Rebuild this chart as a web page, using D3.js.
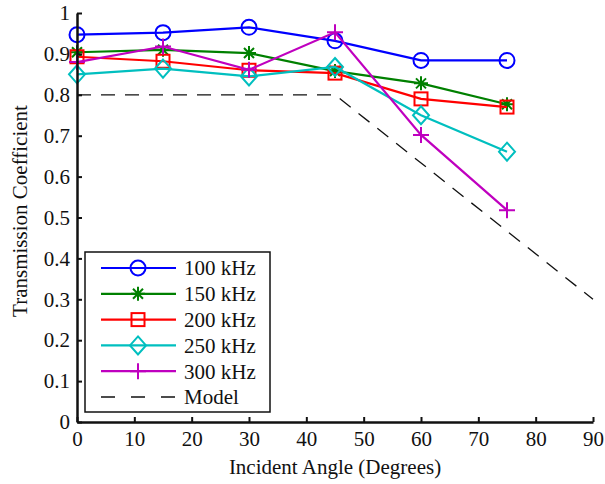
<!DOCTYPE html>
<html>
<head>
<meta charset="utf-8">
<script src="https://cdn.jsdelivr.net/npm/d3@7"></script>
<style>
  body { margin: 0; background: #fff; }
  svg text { font-family: "Liberation Serif", "Times New Roman", serif; fill: #111; }
</style>
</head>
<body>
<div id="chart"></div>
<script>
var width = 605;
var height = 484;

// data
var angles = [0, 15, 30, 45, 60, 75];
var freqs = ["100 kHz", "150 kHz", "200 kHz", "250 kHz", "300 kHz"];
var t100 = [0.947, 0.952, 0.965, 0.932, 0.884, 0.884];
var t150 = [0.904, 0.910, 0.902, 0.858, 0.828, 0.777];
var t200 = [0.893, 0.882, 0.860, 0.853, 0.790, 0.770];
var t250 = [0.850, 0.864, 0.845, 0.868, 0.750, 0.661];
var t300 = [0.880, 0.918, 0.861, 0.953, 0.702, 0.518];
var modelAngles = [0, 45, 90];
var modelValues = [0.8, 0.8, 0.3];
var xTicks = [0, 10, 20, 30, 40, 50, 60, 70, 80, 90];
var yTicks = [0, 0.1, 0.2, 0.3, 0.4, 0.5, 0.6, 0.7, 0.8, 0.9, 1];

var colors = ["#0000ff", "#008000", "#ff0000", "#00bfbf", "#bf00bf"];
var markers = ["circle", "star", "square", "diamond", "plus"];
var series = [t100, t150, t200, t250, t300];

var fontSize = "21px";

var x = d3.scaleLinear().domain([0, 90]).range([77, 593]);
var y = d3.scaleLinear().domain([0, 1]).range([422, 13]);

var svg = d3.select("#chart")
  .append("svg")
  .attr("width", width)
  .attr("height", height);

// draw a marker shape at (cx, cy)
function drawMarker(g, type, cx, cy, color) {
  var m = g.append("g").attr("transform", "translate(" + cx + "," + cy + ")")
    .attr("fill", "none").attr("stroke", color).attr("stroke-width", 2);
  if (type == "circle") {
    m.append("circle").attr("r", 7.5);
  } else if (type == "square") {
    m.append("rect").attr("x", -6.5).attr("y", -6.5).attr("width", 13).attr("height", 13);
  } else if (type == "diamond") {
    m.append("path").attr("d", "M0,-9L8,0L0,9L-8,0Z");
  } else if (type == "plus") {
    m.append("path").attr("d", "M-8,0H8M0,-8V8");
  } else if (type == "star") {
    m.append("path").attr("d", "M-7,0H7M0,-7V7M-5,-5L5,5M-5,5L5,-5");
  }
}

// model dashed line
var modelLine = d3.line()
  .x((d, i) => x(modelAngles[i]))
  .y(d => y(d));

svg.append("path")
  .attr("d", modelLine(modelValues))
  .attr("fill", "none")
  .attr("stroke", "#111")
  .attr("stroke-width", 1.3)
  .attr("stroke-dasharray", "14,10");

var line = d3.line()
  .x((d, i) => x(angles[i]))
  .y(d => y(d));

series.forEach(function (vals, k) {
  svg.append("path")
    .attr("d", line(vals))
    .attr("fill", "none")
    .attr("stroke", colors[k])
    .attr("stroke-width", 2.2);
  var g = svg.append("g");
  vals.forEach(function (v, i) {
    drawMarker(g, markers[k], x(angles[i]), y(v), colors[k]);
  });
});

// axes
var xAxis = svg.append("g")
  .attr("transform", "translate(0," + y(0) + ")")
  .call(d3.axisBottom(x).tickValues(xTicks).tickSizeInner(-5).tickSizeOuter(0).tickPadding(9));
var yAxis = svg.append("g")
  .attr("transform", "translate(" + x(0) + ",0)")
  .call(d3.axisLeft(y).tickValues(yTicks).tickSizeInner(-5).tickSizeOuter(0).tickPadding(7)
    .tickFormat(d3.format("~g")));

[xAxis, yAxis].forEach(function (a) {
  a.select(".domain").attr("stroke", "#111").attr("stroke-width", 2.5);
  a.selectAll(".tick line").attr("stroke", "#111").attr("stroke-width", 2);
  a.selectAll(".tick text").style("font-size", fontSize).attr("fill", "#111");
});

// axis titles
svg.append("text")
  .attr("x", (x(0) + x(90)) / 2)
  .attr("y", 474)
  .attr("text-anchor", "middle")
  .style("font-size", fontSize)
  .text("Incident Angle (Degrees)");

svg.append("text")
  .attr("transform", "translate(27,211) rotate(-90)")
  .attr("text-anchor", "middle")
  .style("font-size", fontSize)
  .text("Transmission Coefficient");

// legend
var legend = svg.append("g").attr("transform", "translate(85,252)");
legend.append("rect")
  .attr("width", 185)
  .attr("height", 160)
  .attr("fill", "#fff")
  .attr("stroke", "#111")
  .attr("stroke-width", 1.5);

var labels = freqs.concat(["Model"]);
labels.forEach(function (lab, i) {
  var ly = 16 + i * 25.8;
  var row = legend.append("g");
  if (i < 5) {
    row.append("line")
      .attr("x1", 16).attr("x2", 91).attr("y1", ly).attr("y2", ly)
      .attr("stroke", colors[i]).attr("stroke-width", 2.2);
    drawMarker(row, markers[i], 53, ly, colors[i]);
  } else {
    row.append("line")
      .attr("x1", 16).attr("x2", 91).attr("y1", ly).attr("y2", ly)
      .attr("stroke", "#111").attr("stroke-width", 1.3)
      .attr("stroke-dasharray", "14,16");
  }
  row.append("text")
    .attr("x", 99)
    .attr("y", ly)
    .attr("dy", "0.35em")
    .style("font-size", fontSize)
    .text(lab);
});
</script>
</body>
</html>
